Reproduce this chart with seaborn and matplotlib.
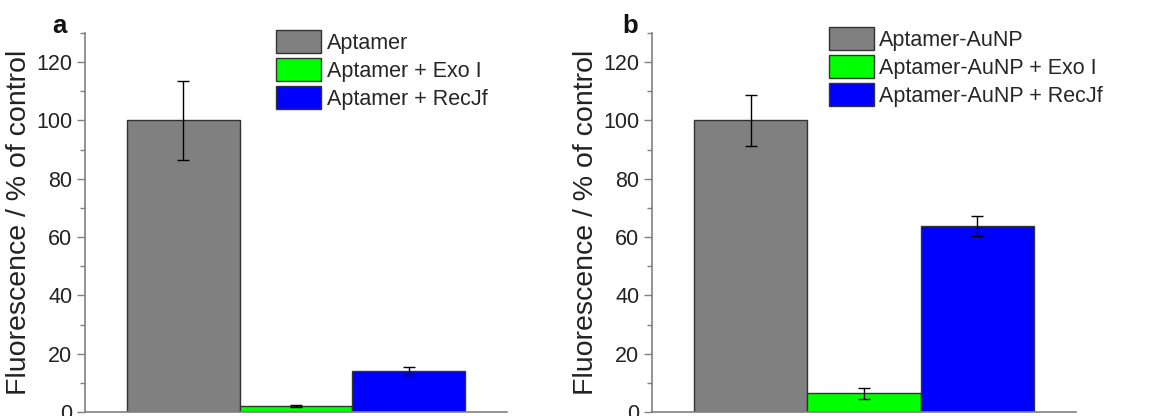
import matplotlib
matplotlib.use("Agg")
import matplotlib.pyplot as plt
import seaborn as sns
from matplotlib.patches import Patch
from matplotlib.ticker import MultipleLocator

sns.set_style("white")
plt.rcParams['font.family'] = ['Liberation Sans', 'DejaVu Sans']

labels_a = ["Aptamer", "Aptamer + Exo I", "Aptamer + RecJf"]
values_a = [100.0, 2.0, 14.1]
errors_a = [13.7, 0.3, 1.3]

labels_b = ["Aptamer-AuNP", "Aptamer-AuNP + Exo I", "Aptamer-AuNP + RecJf"]
values_b = [100.0, 6.5, 63.8]
errors_b = [8.7, 1.9, 3.4]

colors = ["#808080", "#00ff00", "#0000ff"]
ylabel = "Fluorescence / % of control"

fig = plt.figure(figsize=(11.58, 4.16), dpi=100)
ax_a = fig.add_axes([0.0734, 0.0096, 0.3644, 0.9111])
ax_b = fig.add_axes([0.5630, 0.0096, 0.3662, 0.9111])

spine_col = "#808080"

def panel(ax, labels, values, errors, letter, legend_x, legend_y, letter_x):
    sns.barplot(x=labels, y=values, hue=labels, palette=colors, width=1.0,
                edgecolor="#333333", linewidth=1.0, legend=False, ax=ax,
                saturation=1)
    ax.errorbar(list(range(len(labels))), values, yerr=errors, fmt="none",
                ecolor="black", elinewidth=1.0, capsize=4, capthick=1.0)
    ax.set_xlim(-0.875, 2.875)
    ax.set_ylim(0, 130)
    ax.yaxis.set_major_locator(MultipleLocator(20))
    ax.yaxis.set_minor_locator(MultipleLocator(10))
    ax.set_xticks([])
    ax.set_xlabel("")
    ax.set_ylabel(ylabel, fontsize=20.5, color="#222222", labelpad=3)
    ax.tick_params(axis="y", which="major", direction="out", length=6, width=1,
                   color=spine_col, labelsize=15.5, labelcolor="#222222", left=True, pad=3)
    ax.tick_params(axis="y", which="minor", direction="out", length=3.5, width=1,
                   color=spine_col, left=True)
    for s in ["top", "right"]:
        ax.spines[s].set_visible(False)
    for s in ["left", "bottom"]:
        ax.spines[s].set_color(spine_col)
        ax.spines[s].set_linewidth(1.2)
    handles = [Patch(facecolor=c, edgecolor="#333333", linewidth=1.0) for c in colors]
    ax.legend(handles, labels, loc="upper left", bbox_to_anchor=(legend_x, legend_y),
              frameon=False, fontsize=15.5, handlelength=2.1, handleheight=1.3,
              handletextpad=0.25, labelspacing=0.18, borderaxespad=0, borderpad=0)
    fig.text(letter_x, 416 - 33, letter, fontsize=18.5, fontweight="bold",
             color="#111111", transform=None)

panel(ax_a, labels_a, values_a, errors_a, "a", 0.453, 1.008, 52)
panel(ax_b, labels_b, values_b, errors_b, "b", 0.417, 1.016, 622)

fig.savefig("out.png", dpi=100)
